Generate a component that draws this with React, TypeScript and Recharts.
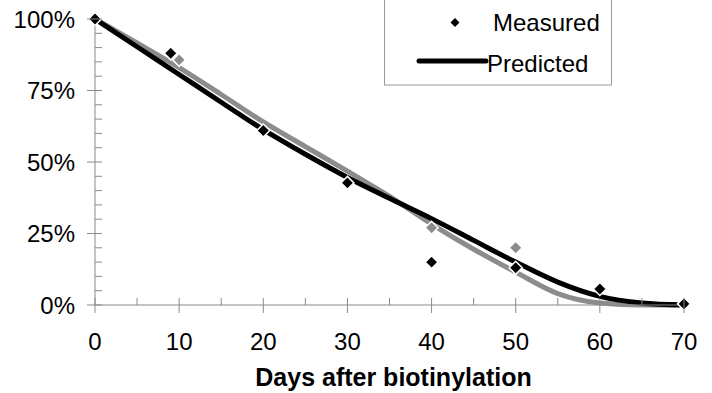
import React from "react";
import { ComposedChart, Legend, Line, Scatter, XAxis, YAxis } from "recharts";

// predicted curves, sampled every 5 days
const predictedDays = [0, 5, 10, 15, 20, 25, 30, 35, 40, 45, 50, 55, 60, 65, 70];
const predictedBlack = [100, 90.3, 80.6, 70.9, 61.3, 52.7, 44.6, 37.3, 30.2, 22.6, 15, 8, 3, 0.7, 0];
const predictedGray = [100, 91.6, 83, 73.6, 64, 55.4, 46.8, 38, 28.3, 19.5, 11.5, 4, 0.7, 0, 0];

// measured points
const measuredDays = [0, 9, 20, 30, 40, 50, 60, 70];
const measuredValues = [100, 88, 61, 42.7, 15, 13, 5.6, 0.4];
const measuredGrayDays = [10, 40, 50];
const measuredGrayValues = [85.7, 27, 20];

const xTicks = [0, 5, 10, 15, 20, 25, 30, 35, 40, 45, 50, 55, 60, 65, 70];
const yTicks = [0, 5, 10, 15, 20, 25, 30, 35, 40, 45, 50, 55, 60, 65, 70, 75, 80, 85, 90, 95, 100];

const blackLine = predictedDays.map((d, i) => ({ day: d, value: predictedBlack[i] }));
const grayLine = predictedDays.map((d, i) => ({ day: d, value: predictedGray[i] }));
const measured = measuredDays.map((d, i) => ({ day: d, value: measuredValues[i] }));
const measuredGray = measuredGrayDays.map((d, i) => ({ day: d, value: measuredGrayValues[i] }));

const FONT = "'Liberation Sans', Arial, sans-serif";
const AXIS = "#8a8a8a";

function YTick(props: any) {
  const { x, y, payload } = props;
  const major = payload.value % 25 === 0;
  return (
    <g>
      <line x1={major ? x - 8 : x} x2={x + 7} y1={y} y2={y} stroke={AXIS} strokeWidth={1} />
      {major && (
        <text x={x - 20} y={y} dy={8.5} textAnchor="end" fontSize={24} fontFamily={FONT} fill="#000">
          {payload.value}%
        </text>
      )}
    </g>
  );
}

function XTick(props: any) {
  const { x, y, payload } = props;
  const major = payload.value % 10 === 0;
  return (
    <g>
      <line x1={x} x2={x} y1={y - 7} y2={major ? y + 8 : y} stroke={AXIS} strokeWidth={1} />
      {major && (
        <text x={x} y={y + 45} textAnchor="middle" fontSize={24} fontFamily={FONT} fill="#000">
          {payload.value}
        </text>
      )}
    </g>
  );
}

function Diamond(props: any) {
  const { cx, cy, fill } = props;
  const r = 6.5;
  return (
    <polygon
      points={`${cx},${cy - r} ${cx + r},${cy} ${cx},${cy + r} ${cx - r},${cy}`}
      fill={fill}
      stroke="#fff"
      strokeWidth={1.5}
    />
  );
}

function LegendBox() {
  return (
    <svg width={228} height={86} style={{ display: "block" }}>
      <rect x={0.5} y={-1} width={227} height={86} fill="#fff" stroke="#999" strokeWidth={1} />
      <polygon points="71,18 75.5,22.5 71,27 66.5,22.5" fill="#000" />
      <text x={109} y={31} fontSize={24} fontFamily={FONT} fill="#000">Measured</text>
      <line x1={35} x2={102} y1={61} y2={61} stroke="#000" strokeWidth={5} strokeLinecap="round" />
      <text x={103} y={72} fontSize={24} fontFamily={FONT} fill="#000">Predicted</text>
    </svg>
  );
}

export default function App() {
  return (
    <div style={{ position: "absolute", left: 0, top: 0, width: 712, height: 393, background: "#fff" }}>
      <ComposedChart width={712} height={393} margin={{ top: 19, right: 28, left: 0, bottom: 0 }}>
        <XAxis
          dataKey="day"
          type="number"
          domain={[0, 70]}
          ticks={xTicks}
          interval={0}
          height={88}
          stroke={AXIS}
          tickLine={false}
          tickSize={0}
          tickMargin={0}
          tick={<XTick />}
          label={{
            value: "Days after biotinylation",
            position: "insideBottom",
            offset: 7,
            dx: 4,
            style: { fontSize: 25, fontWeight: "bold", fontFamily: FONT, fill: "#000" },
          }}
        />
        <YAxis
          dataKey="value"
          type="number"
          domain={[0, 100]}
          ticks={yTicks}
          interval={0}
          width={95}
          stroke={AXIS}
          tickLine={false}
          tickSize={0}
          tickMargin={0}
          tick={<YTick />}
        />
        <Legend
          layout="horizontal"
          verticalAlign="middle"
          align="center"
          wrapperStyle={{ left: 384, top: 0, width: 228, height: 86 }}
          content={() => <LegendBox />}
        />
        <Line
          data={grayLine}
          dataKey="value"
          type="monotone"
          stroke="#8c8c8c"
          strokeWidth={5}
          dot={false}
          isAnimationActive={false}
          legendType="none"
        />
        <Line
          data={blackLine}
          dataKey="value"
          type="monotone"
          stroke="#000"
          strokeWidth={5}
          dot={false}
          isAnimationActive={false}
        />
        <Scatter data={measuredGray} dataKey="value" fill="#8c8c8c" shape={<Diamond />} isAnimationActive={false} />
        <Scatter data={measured} dataKey="value" fill="#000" shape={<Diamond />} isAnimationActive={false} />
      </ComposedChart>
    </div>
  );
}
